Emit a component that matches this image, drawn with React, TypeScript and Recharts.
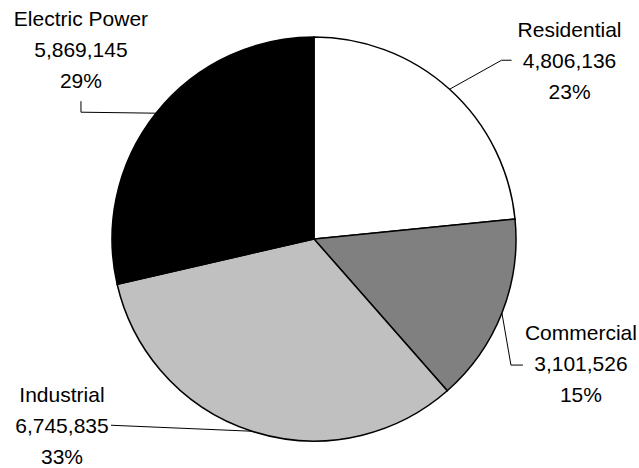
import React from "react";
import { PieChart, Pie, Cell } from "recharts";

const SECTORS = ["Residential", "Commercial", "Industrial", "Electric Power"];
const CONSUMPTION = [4806136, 3101526, 6745835, 5869145];
const FILLS = ["#FFFFFF", "#808080", "#C0C0C0", "#000000"];

// leader line bends and text spot, relative to the point where the line leaves the slice
const LABEL_LAYOUT: Record<string, { path: [number, number][]; text: [number, number] }> = {
  Residential: { path: [[52, -29], [62, -29]], text: [120, -29] },
  Commercial: { path: [[9, 52], [21, 52]], text: [79, 50] },
  Industrial: { path: [[-141, -6]], text: [-190, -6] },
  "Electric Power": { path: [[-75, -1], [-75, -12]], text: [-75, -64] },
};

const total = CONSUMPTION.reduce((s, v) => s + v, 0);

const data = SECTORS.map((name, i) => ({ name, value: CONSUMPTION[i] }));

const RADIAN = Math.PI / 180;

const renderLabel = (props: any) => {
  const { cx, cy, midAngle, outerRadius, name, value } = props;
  const ex = cx + outerRadius * Math.cos(-midAngle * RADIAN);
  const ey = cy + outerRadius * Math.sin(-midAngle * RADIAN);
  const layout = LABEL_LAYOUT[name];
  if (!layout) return null;
  const pts = [[ex, ey], ...layout.path.map(([dx, dy]) => [ex + dx, ey + dy])];
  const tx = ex + layout.text[0];
  const ty = ey + layout.text[1];
  const pct = Math.round((value / total) * 100);
  const lineH = 31;
  return (
    <g>
      <polyline
        points={pts.map((p) => p.join(",")).join(" ")}
        fill="none"
        stroke="#000"
        strokeWidth={1}
      />
      <text
        x={tx}
        y={ty}
        textAnchor="middle"
        dominantBaseline="central"
        fontFamily="'Liberation Sans', Arial, sans-serif"
        fontSize={21}
        fill="#000"
      >
        <tspan x={tx} y={ty - lineH}>{name}</tspan>
        <tspan x={tx} y={ty}>{value.toLocaleString("en-US")}</tspan>
        <tspan x={tx} y={ty + lineH}>{pct}%</tspan>
      </text>
    </g>
  );
};

export default function App() {
  return (
    <div style={{ position: "absolute", left: 0, top: 0, background: "#fff" }}>
      <PieChart width={639} height={468} margin={{ top: 0, right: 0, bottom: 0, left: 0 }}>
        <Pie
          data={data}
          dataKey="value"
          nameKey="name"
          cx={314}
          cy={239}
          outerRadius={202}
          startAngle={90}
          endAngle={-270}
          stroke="#000"
          strokeWidth={1.5}
          label={renderLabel}
          labelLine={false}
          isAnimationActive={false}
        >
          {data.map((_, i) => (
            <Cell key={`cell-${i}`} fill={FILLS[i]} />
          ))}
        </Pie>
      </PieChart>
    </div>
  );
}
